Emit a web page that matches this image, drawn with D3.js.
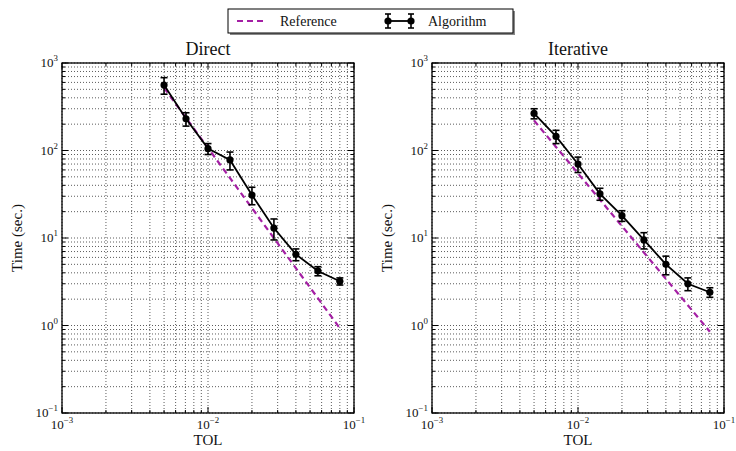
<!DOCTYPE html>
<html><head><meta charset="utf-8">
<script src="https://cdn.jsdelivr.net/npm/d3@7"></script>
<style>body{margin:0;background:#fff} text{font-family:"Liberation Serif","DejaVu Serif",serif;fill:#111}</style>
</head><body><svg id="c" width="736" height="451"></svg><script>
// ---- data ----
const tol = [0.005, 0.00707, 0.01, 0.01414, 0.02, 0.02828, 0.04, 0.05657, 0.08];
const directTime = [560, 230, 105, 78, 31, 13, 6.5, 4.2, 3.2];
const directErr  = [120, 40, 15, 18, 7, 3.5, 1.0, 0.5, 0.3];
const iterTime = [265, 145, 70, 32, 18, 9.5, 5.0, 3.0, 2.4];
const iterErr  = [35, 25, 14, 5, 2.5, 2.0, 1.2, 0.5, 0.3];
const refTol = [0.005, 0.08];
const directRef = [520, 0.93];
const iterRef = [220, 0.85];
const xTickExp = [-3, -2, -1];
const yTickExp = [-1, 0, 1, 2, 3];
const titles = ["Direct", "Iterative"];
const legendLabels = ["Reference", "Algorithm"];

const svg = d3.select("#c");
const panels = [
  {x0: 62, x1: 354, title: titles[0], t: directTime, e: directErr, r: directRef},
  {x0: 432, x1: 724, title: titles[1], t: iterTime, e: iterErr, r: iterRef}
];
const y0 = 63, y1 = 413;
const refColor = "#a41fa4";

function sup(sel, exp, size) {
  const t = sel.append("text").attr("font-size", size);
  t.append("tspan").text("10");
  t.append("tspan").attr("dy", -size * 0.45).attr("font-size", size * 0.68).text(exp < 0 ? "\u2212" + (-exp) : exp);
  return t;
}

panels.forEach(p => {
  const x = d3.scaleLog().domain([1e-3, 1e-1]).range([p.x0, p.x1]);
  const y = d3.scaleLog().domain([1e-1, 1e3]).range([y1, y0]);
  const g = svg.append("g");

  // grid
  const xMinor = [], yMinor = [];
  for (let e = -3; e < -1; e++) for (let k = 2; k <= 9; k++) xMinor.push(k * Math.pow(10, e));
  for (let e = -1; e < 3; e++) for (let k = 2; k <= 9; k++) yMinor.push(k * Math.pow(10, e));
  const xMajor = xTickExp.map(e => Math.pow(10, e));
  const yMajor = yTickExp.map(e => Math.pow(10, e));
  const grid = g.append("g").attr("stroke", "#333").attr("stroke-dasharray", "1,2").attr("stroke-width", 1);
  xMinor.concat(xMajor).forEach(v => grid.append("line").attr("x1", x(v)).attr("x2", x(v)).attr("y1", y0).attr("y2", y1).attr("stroke-opacity", 0.8));
  yMinor.concat(yMajor).forEach(v => grid.append("line").attr("y1", y(v)).attr("y2", y(v)).attr("x1", p.x0).attr("x2", p.x1).attr("stroke-opacity", 0.8));

  // ticks (inward, all sides)
  const tk = g.append("g").attr("stroke", "#000").attr("stroke-width", 1);
  xMinor.forEach(v => { tk.append("line").attr("x1", x(v)).attr("x2", x(v)).attr("y1", y1).attr("y2", y1 - 3); tk.append("line").attr("x1", x(v)).attr("x2", x(v)).attr("y1", y0).attr("y2", y0 + 3); });
  xMajor.forEach(v => { tk.append("line").attr("x1", x(v)).attr("x2", x(v)).attr("y1", y1).attr("y2", y1 - 6); tk.append("line").attr("x1", x(v)).attr("x2", x(v)).attr("y1", y0).attr("y2", y0 + 6); });
  yMinor.forEach(v => { tk.append("line").attr("y1", y(v)).attr("y2", y(v)).attr("x1", p.x0).attr("x2", p.x0 + 3); tk.append("line").attr("y1", y(v)).attr("y2", y(v)).attr("x1", p.x1).attr("x2", p.x1 - 3); });
  yMajor.forEach(v => { tk.append("line").attr("y1", y(v)).attr("y2", y(v)).attr("x1", p.x0).attr("x2", p.x0 + 6); tk.append("line").attr("y1", y(v)).attr("y2", y(v)).attr("x1", p.x1).attr("x2", p.x1 - 6); });

  // reference line
  const line = d3.line().x(d => x(d[0])).y(d => y(d[1]));
  g.append("path").datum(refTol.map((v, i) => [v, p.r[i]])).attr("d", line)
    .attr("fill", "none").attr("stroke", refColor).attr("stroke-width", 2.2).attr("stroke-dasharray", "6,4");

  // algorithm line
  g.append("path").datum(tol.map((v, i) => [v, p.t[i]])).attr("d", line)
    .attr("fill", "none").attr("stroke", "#000").attr("stroke-width", 1.8);
  // error bars
  const eb = g.append("g").attr("stroke", "#000").attr("stroke-width", 1.6);
  tol.forEach((v, i) => {
    const cx = x(v), top = y(p.t[i] + p.e[i]), bot = y(Math.max(p.t[i] - p.e[i], 1e-3));
    eb.append("line").attr("x1", cx).attr("x2", cx).attr("y1", top).attr("y2", bot);
    eb.append("line").attr("x1", cx - 3.5).attr("x2", cx + 3.5).attr("y1", top).attr("y2", top);
    eb.append("line").attr("x1", cx - 3.5).attr("x2", cx + 3.5).attr("y1", bot).attr("y2", bot);
  });
  g.selectAll("circle.m").data(tol).enter().append("circle")
    .attr("cx", d => x(d)).attr("cy", (d, i) => y(p.t[i])).attr("r", 3.6).attr("fill", "#000");

  // frame
  g.append("rect").attr("x", p.x0).attr("y", y0).attr("width", p.x1 - p.x0).attr("height", y1 - y0)
    .attr("fill", "none").attr("stroke", "#000").attr("stroke-width", 1.3);

  // tick labels
  xTickExp.forEach(e => {
    sup(g, e, 13).attr("x", x(Math.pow(10, e))).attr("y", y1 + 16).attr("text-anchor", "middle");
  });
  yTickExp.forEach(e => {
    sup(g, e, 13).attr("x", p.x0 - 4).attr("y", y(Math.pow(10, e)) + 4).attr("text-anchor", "end");
  });

  // labels
  const cx = (p.x0 + p.x1) / 2;
  g.append("text").attr("x", cx).attr("y", 55).attr("text-anchor", "middle").attr("font-size", 18).text(p.title);
  g.append("text").attr("x", cx).attr("y", 445).attr("text-anchor", "middle").attr("font-size", 15).text("TOL");
  g.append("text").attr("transform", `translate(${p.x0 - 40},${(y0 + y1) / 2}) rotate(-90)`)
    .attr("text-anchor", "middle").attr("font-size", 15).text("Time (sec.)");
});

// legend
const lg = svg.append("g");
lg.append("rect").attr("x", 230).attr("y", 11).attr("width", 285).attr("height", 24).attr("fill", "#888");
lg.append("rect").attr("x", 228).attr("y", 9).attr("width", 285).attr("height", 24).attr("fill", "#fff").attr("stroke", "#000").attr("stroke-width", 1);
lg.append("line").attr("x1", 237).attr("x2", 265).attr("y1", 21).attr("y2", 21).attr("stroke", refColor).attr("stroke-width", 2.2).attr("stroke-dasharray", "6,4");
lg.append("text").attr("x", 280).attr("y", 26).attr("font-size", 14).text(legendLabels[0]);
lg.append("line").attr("x1", 386).attr("x2", 413).attr("y1", 21).attr("y2", 21).attr("stroke", "#000").attr("stroke-width", 1.8);
[388, 411].forEach(xx => {
  lg.append("line").attr("x1", xx).attr("x2", xx).attr("y1", 14).attr("y2", 28).attr("stroke", "#000").attr("stroke-width", 1.6);
  lg.append("line").attr("x1", xx - 3).attr("x2", xx + 3).attr("y1", 14).attr("y2", 14).attr("stroke", "#000").attr("stroke-width", 1.6);
  lg.append("line").attr("x1", xx - 3).attr("x2", xx + 3).attr("y1", 28).attr("y2", 28).attr("stroke", "#000").attr("stroke-width", 1.6);
  lg.append("circle").attr("cx", xx).attr("cy", 21).attr("r", 3.6).attr("fill", "#000");
});
lg.append("text").attr("x", 428).attr("y", 26).attr("font-size", 14).text(legendLabels[1]);
</script></body></html>
